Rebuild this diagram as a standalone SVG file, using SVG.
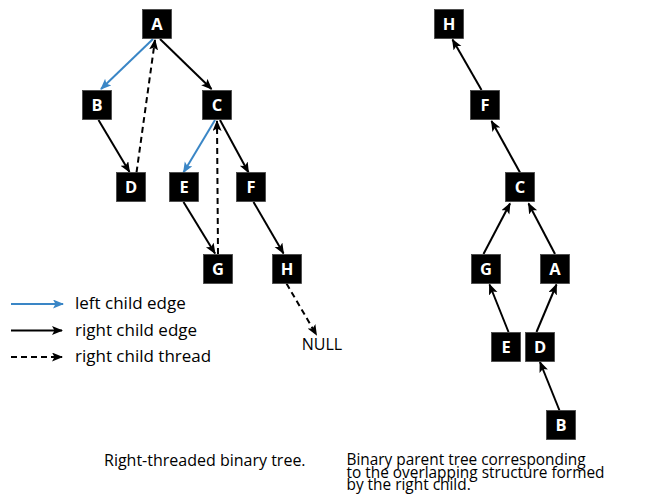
<svg xmlns="http://www.w3.org/2000/svg" width="654" height="504" viewBox="0 0 654 504">
<style>
.box{fill:#000;stroke:#444;stroke-width:0.8}
.lbl{font-family:"Open Sans","Liberation Sans",sans-serif;font-weight:bold;font-size:16.5px;fill:#fff;text-anchor:middle}
.txt{font-family:"Open Sans","Liberation Sans",sans-serif;font-size:16px;fill:#000}
.cap{font-family:"Open Sans","Liberation Sans",sans-serif;font-size:15.4px;fill:#000}
.leg{font-family:"Open Sans","Liberation Sans",sans-serif;font-size:17px;fill:#000}
.e{fill:none;stroke:#000;stroke-width:2;marker-end:url(#ah)}
.l{fill:none;stroke:#3a86c6;stroke-width:2;marker-end:url(#ahb)}
.t{fill:none;stroke:#000;stroke-width:2;stroke-dasharray:6,4;marker-end:url(#ah)}
</style>
<defs>
<marker id="ah" markerUnits="userSpaceOnUse" markerWidth="12" markerHeight="10" refX="10" refY="4.5" orient="auto" viewBox="0 0 12 10">
<path d="M0,0 L11,4.5 L0,9 L2.5,4.5 z" fill="#000"/>
</marker>
<marker id="ahb" markerUnits="userSpaceOnUse" markerWidth="12" markerHeight="10" refX="10" refY="4.5" orient="auto" viewBox="0 0 12 10">
<path d="M0,0 L11,4.5 L0,9 L2.5,4.5 z" fill="#3a86c6"/>
</marker>
</defs>

<g id="connectors">
<line class="l" x1="153" y1="39" x2="101" y2="89"/>
<line class="e" x1="160" y1="39" x2="211.5" y2="89"/>
<line class="e" x1="98.5" y1="120" x2="129.5" y2="172"/>
<line class="t" x1="136.5" y1="172.5" x2="155" y2="40"/>
<line class="l" x1="215" y1="120" x2="183.5" y2="172.5"/>
<line class="e" x1="220" y1="120" x2="248.5" y2="172.5"/>
<line class="t" x1="218" y1="254" x2="217" y2="121"/>
<line class="e" x1="183.5" y1="202" x2="215" y2="253.5"/>
<line class="e" x1="253.5" y1="202" x2="283.5" y2="253.5"/>
<line class="t" x1="286.5" y1="283.5" x2="316.5" y2="335"/>
<line class="e" x1="481.5" y1="90" x2="452.5" y2="39.5"/>
<line class="e" x1="520" y1="172.5" x2="491.5" y2="121"/>
<line class="e" x1="483.5" y1="254" x2="510" y2="203.5"/>
<line class="e" x1="555" y1="254" x2="528.5" y2="203.5"/>
<line class="e" x1="508.5" y1="332" x2="489.5" y2="284.5"/>
<line class="e" x1="536.5" y1="332" x2="556.5" y2="284.5"/>
<line class="e" x1="559.5" y1="410.5" x2="540" y2="362"/>
</g>

<g id="left-A"><rect class="box" x="142.5" y="9.5" width="29" height="29"/><text class="lbl" x="157" y="30">A</text></g>
<g id="left-B"><rect class="box" x="82.5" y="90.5" width="29" height="29"/><text class="lbl" x="97" y="111">B</text></g>
<g id="left-C"><rect class="box" x="202.5" y="90.5" width="29" height="29"/><text class="lbl" x="217" y="111">C</text></g>
<g id="left-D"><rect class="box" x="116.5" y="172.5" width="29" height="29"/><text class="lbl" x="131" y="193">D</text></g>
<g id="left-E"><rect class="box" x="169.5" y="172.5" width="29" height="29"/><text class="lbl" x="184" y="193">E</text></g>
<g id="left-F"><rect class="box" x="236.5" y="172.5" width="29" height="29"/><text class="lbl" x="251" y="193">F</text></g>
<g id="left-G"><rect class="box" x="203.5" y="254.5" width="29" height="29"/><text class="lbl" x="218" y="275">G</text></g>
<g id="left-H"><rect class="box" x="272.5" y="254.5" width="29" height="29"/><text class="lbl" x="287" y="275">H</text></g>
<g id="null"><text class="txt" x="322" y="350" text-anchor="middle">NULL</text></g>

<g id="right-H"><rect class="box" x="434.5" y="9.5" width="29" height="29"/><text class="lbl" x="449" y="30">H</text></g>
<g id="right-F"><rect class="box" x="470.5" y="90.5" width="29" height="29"/><text class="lbl" x="485" y="111">F</text></g>
<g id="right-C"><rect class="box" x="505.5" y="172.5" width="29" height="29"/><text class="lbl" x="520" y="193">C</text></g>
<g id="right-G"><rect class="box" x="471.5" y="254.5" width="29" height="29"/><text class="lbl" x="486" y="275">G</text></g>
<g id="right-A"><rect class="box" x="540.5" y="254.5" width="29" height="29"/><text class="lbl" x="555" y="275">A</text></g>
<g id="right-E"><rect class="box" x="491.5" y="332.5" width="29" height="29"/><text class="lbl" x="506" y="353">E</text></g>
<g id="right-D"><rect class="box" x="525.5" y="332.5" width="29" height="29"/><text class="lbl" x="540" y="353">D</text></g>
<g id="right-B"><rect class="box" x="546.5" y="410.5" width="29" height="29"/><text class="lbl" x="561" y="431">B</text></g>

<g id="legend">
<line class="l" x1="11" y1="304" x2="63" y2="304"/>
<text class="leg" x="75" y="309">left child edge</text>
<line class="e" x1="11" y1="330.5" x2="62" y2="330.5"/>
<text class="leg" x="75" y="335.5">right child edge</text>
<line class="t" x1="11" y1="357" x2="62" y2="357"/>
<text class="leg" x="75" y="362">right child thread</text>
</g>

<g id="captions">
<text class="txt" x="104" y="466">Right-threaded binary tree.</text>
<text class="cap" x="346.5" y="465">Binary parent tree corresponding</text>
<text class="cap" x="346.5" y="477.5">to the overlapping structure formed</text>
<text class="cap" x="346.5" y="490">by the right child.</text>
</g>
</svg>
